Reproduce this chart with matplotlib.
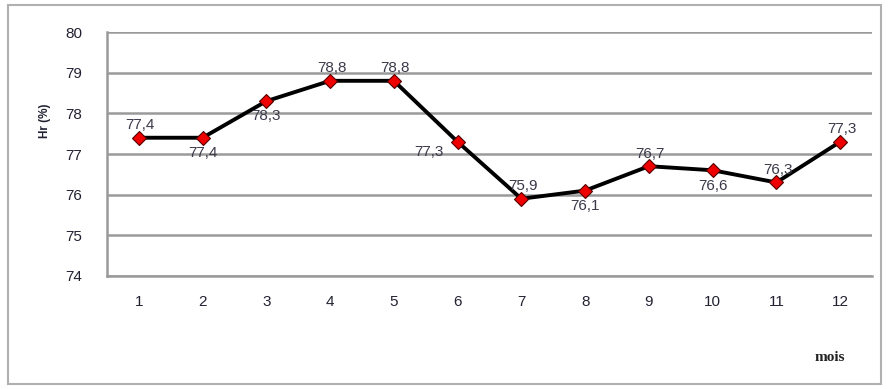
import matplotlib
matplotlib.use("Agg")
import matplotlib.pyplot as plt
from matplotlib.patches import Rectangle

months = [1, 2, 3, 4, 5, 6, 7, 8, 9, 10, 11, 12]
hr = [77.4, 77.4, 78.3, 78.8, 78.8, 77.3, 75.9, 76.1, 76.7, 76.6, 76.3, 77.3]
labels = ["77,4", "77,4", "78,3", "78,8", "78,8", "77,3", "75,9", "76,1", "76,7", "76,6", "76,3", "77,3"]
label_pos = ["above", "below", "below", "above", "above", "left", "above", "below", "above", "below", "above", "above"]
yticks = [74, 75, 76, 77, 78, 79, 80]

fig = plt.figure(figsize=(8.93, 3.89), dpi=100)
fig.patches.append(Rectangle((0.009, 0.013), 0.978, 0.975, transform=fig.transFigure,
                             fill=False, edgecolor="#b0b0b0", linewidth=1.5))
ax = fig.add_axes([0.1198, 0.2905, 0.8567, 0.6272])

ax.plot(months, hr, color="black", linewidth=2.8, zorder=3)
ax.plot(months, hr, linestyle="none", marker="D", markersize=7.5,
        markerfacecolor="#ee0000", markeredgecolor="#550000", markeredgewidth=0.8, zorder=4)

txtcol = "#3a3a4a"
for x, y, lab, pos in zip(months, hr, labels, label_pos):
    if pos == "above":
        ax.annotate(lab, (x, y), xytext=(1, 4), textcoords="offset points",
                    ha="center", va="bottom", fontsize=11, color=txtcol, family="Liberation Sans")
    elif pos == "below":
        ax.annotate(lab, (x, y), xytext=(0, -6), textcoords="offset points",
                    ha="center", va="top", fontsize=11, color=txtcol, family="Liberation Sans")
    else:
        ax.annotate(lab, (x, y), xytext=(-10, -7), textcoords="offset points",
                    ha="right", va="center", fontsize=11, color=txtcol, family="Liberation Sans")

ax.set_xlim(0.5, 12.5)
ax.set_ylim(74, 80)
ax.set_yticks(yticks)
ax.set_xticks(months)
ax.set_xticklabels([str(m) for m in months], fontsize=11, family="Liberation Sans", color="#222233")
ax.set_yticklabels([str(t) for t in yticks], fontsize=11, family="Liberation Sans", color="#222233")
ax.tick_params(axis="both", length=0)
ax.tick_params(axis="y", pad=18)
ax.tick_params(axis="x", pad=14)
ax.grid(axis="y", color="#9a9a9a", linewidth=1.8)
ax.set_axisbelow(True)
for s in ["top", "right"]:
    ax.spines[s].set_visible(False)
ax.spines["left"].set_color("#9a9a9a")
ax.spines["left"].set_linewidth(1.8)
ax.spines["bottom"].set_color("#9a9a9a")
ax.spines["bottom"].set_linewidth(1.8)

fig.text(0.050, 0.69, "Hr (%)", rotation=90, ha="center", va="center",
         fontsize=8.5, fontweight="bold", family="Liberation Sans", color="#222233")
fig.text(0.929, 0.082, "mois", ha="center", va="center",
         fontsize=11, fontweight="bold", family="Liberation Serif", color="#222222")

fig.savefig("out.png", dpi=100)
